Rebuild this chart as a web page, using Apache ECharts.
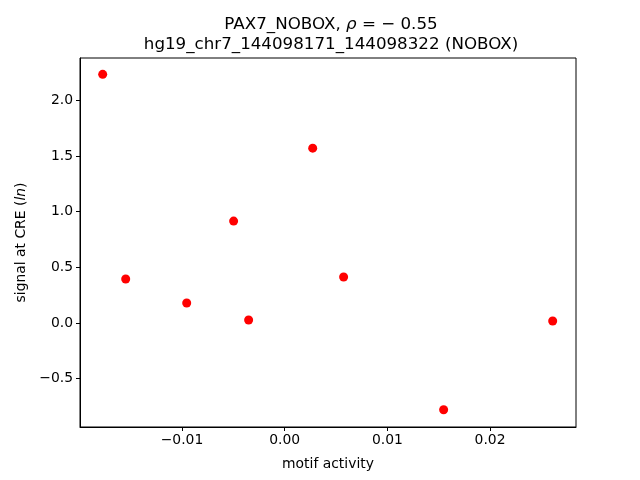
<!DOCTYPE html>
<html><head><meta charset="utf-8">
<script src="https://cdn.jsdelivr.net/npm/echarts@6/dist/echarts.min.js"></script>
<style>html,body{margin:0;padding:0;background:#fff}#c{width:640px;height:480px}</style>
</head><body><div id="c"></div>
<script>
const motifActivity = [-0.01772, -0.01548, -0.00954, -0.00497, -0.00351, 0.00273, 0.00574, 0.01548, 0.0261];
const signalAtCRE   = [2.233, 0.395, 0.179, 0.915, 0.027, 1.570, 0.413, -0.780, 0.018];
const xTicks = [-0.01, 0.00, 0.01, 0.02];
const yTicks = [-0.5, 0.0, 0.5, 1.0, 1.5, 2.0];
const xRange = [-0.01993, 0.02837];
const yRange = [-0.9345, 2.380];

const FONT = 'DejaVu Sans';
const fmtMinus = s => s.replace('-', '\u2212');
const chart = echarts.init(document.getElementById('c'), null, {renderer: 'canvas'});
chart.setOption({
  animation: false,
  backgroundColor: '#fff',
  title: {
    text: '{a|PAX7_NOBOX, }{i|ρ}{a| = \u2212 0.55}\n{a|hg19_chr7_144098171_144098322 (NOBOX)}',
    left: 326, textAlign: 'center', top: 10,
    textStyle: {
      fontWeight: 'normal',
      rich: {
        a: {fontFamily: FONT, fontSize: 16.7, color: '#000', fontWeight: 'normal', lineHeight: 20},
        i: {fontFamily: FONT, fontSize: 16.7, color: '#000', fontWeight: 'normal', fontStyle: 'italic', lineHeight: 20}
      }
    }
  },
  grid: {left: 80, right: 64, top: 58, bottom: 53, show: true, borderColor: '#000', borderWidth: 1, backgroundColor: 'transparent'},
  xAxis: {
    type: 'value', min: xRange[0], max: xRange[1],
    splitLine: {show: false},
    axisLine: {show: true, onZero: false, lineStyle: {color: '#000', width: 1}},
    axisTick: {show: true, customValues: xTicks, length: 4, lineStyle: {color: '#000'}},
    axisLabel: {customValues: xTicks, color: '#000', fontFamily: FONT, fontSize: 13.9, margin: 6,
      formatter: v => fmtMinus(v.toFixed(2))},
    name: 'motif activity', nameLocation: 'middle', nameGap: 30,
    nameTextStyle: {fontFamily: FONT, fontSize: 13.9, color: '#000'}
  },
  yAxis: {
    type: 'value', min: yRange[0], max: yRange[1],
    splitLine: {show: false},
    axisLine: {show: true, onZero: false, lineStyle: {color: '#000', width: 1}},
    axisTick: {show: true, customValues: yTicks, length: 4, lineStyle: {color: '#000'}},
    axisLabel: {customValues: yTicks, color: '#000', fontFamily: FONT, fontSize: 13.9, margin: 7,
      formatter: v => fmtMinus(v.toFixed(1))},
    name: '{a|signal at CRE (}{i|ln}{a|)}', nameLocation: 'middle', nameGap: 52, nameRotate: 90,
    nameTextStyle: {rich: {
      a: {fontFamily: FONT, fontSize: 13.9, color: '#000'},
      i: {fontFamily: FONT, fontSize: 13.9, color: '#000', fontStyle: 'italic'}
    }}
  },
  series: [{
    type: 'scatter',
    data: motifActivity.map((x, i) => [x, signalAtCRE[i]]),
    symbol: 'circle', symbolSize: 9,
    itemStyle: {color: '#ff0000', opacity: 1}
  }]
});
</script></body></html>
